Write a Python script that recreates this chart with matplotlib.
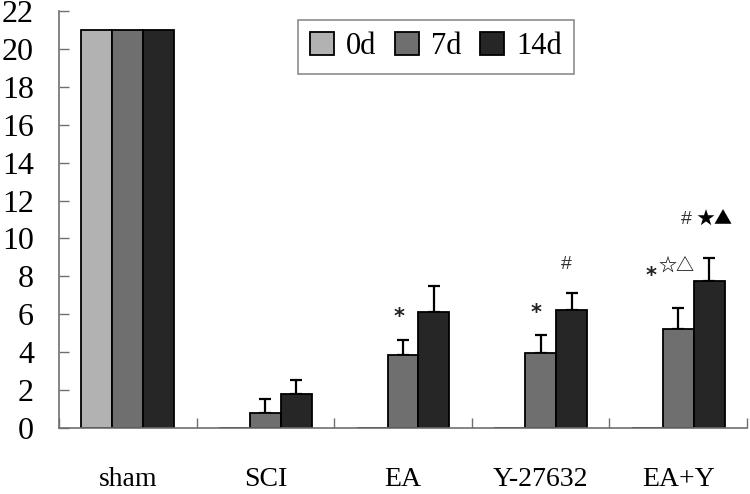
import matplotlib
matplotlib.use("Agg")
import matplotlib.pyplot as plt
import numpy as np

groups = ["sham", "SCI", "EA", "Y-27632", "EA+Y"]
series = ["0d", "7d", "14d"]
val_0d = [21.0, 0.0, 0.0, 0.0, 0.0]
val_7d = [21.0, 0.81, 3.83, 3.96, 5.21]
val_14d = [21.0, 1.81, 6.12, 6.21, 7.77]
err_7d = [0.0, 0.70, 0.83, 0.93, 1.11]
err_14d = [0.0, 0.72, 1.36, 0.93, 1.22]
colors = ["#b2b2b2", "#6f6f6f", "#262626"]
yticks = list(range(0, 23, 2))

# significance marks: (x in data units, y value, text)
ann_x = [1.97, 2.97, 3.19, 3.80, 3.99, 4.06, 4.26]
ann_y = [6.08, 6.33, 8.6, 8.25, 8.5, 11.0, 11.0]
ann_t = ["*", "*", "#", "*", "☆△", "#", "★▲"]

fig = plt.figure(figsize=(7.5, 4.94), dpi=100)
ax = fig.add_axes([59/750, 1-428/494, (747-59)/750, (428-11)/494])

x = np.arange(len(groups))
w = 0.225
vals = [val_0d, val_7d, val_14d]
errs = [None, err_7d, err_14d]
for i, (v, e, c, lab) in enumerate(zip(vals, errs, colors, series)):
    pos = x + (i - 1) * w
    ax.bar(pos, v, width=w, color=c, edgecolor="black", linewidth=1.3, label=lab, zorder=2)
    if e is not None:
        m = np.array(e) > 0
        ax.errorbar(pos[m], np.array(v)[m], yerr=[np.zeros(m.sum()), np.array(e)[m]],
                    fmt="none", ecolor="black", elinewidth=1.6, capsize=4, capthick=1.6, zorder=1)

ax.set_xlim(-0.5, len(groups) - 0.5)
ax.set_ylim(0, 22)
ax.set_yticks(yticks)
ax.set_yticklabels([str(t) for t in yticks], fontfamily="Liberation Serif", fontsize=23)
ax.set_xticks(x)
ax.set_xticklabels(groups, fontfamily="Liberation Serif", fontsize=20)
ax.set_xticks(np.arange(-0.5, len(groups)), minor=True)
ax.tick_params(axis="x", which="major", length=0, pad=28)
ax.tick_params(axis="x", which="minor", direction="in", length=7, color="#707070", width=1)
ax.tick_params(axis="y", direction="in", length=7, color="#707070", width=1, pad=18)
for s in ["top", "right"]:
    ax.spines[s].set_visible(False)
for s in ["left", "bottom"]:
    ax.spines[s].set_color("#707070")
    ax.spines[s].set_linewidth(1.2)

for xx, yy, t in zip(ann_x, ann_y, ann_t):
    if t == "*":
        ax.text(xx, yy - 0.25, t, ha="center", va="center", fontsize=15, fontweight="bold",
                color="#222222", fontfamily="DejaVu Sans")
    elif t == "#":
        ax.text(xx, yy, t, ha="center", va="center", fontsize=14,
                color="#333333", fontfamily="Liberation Sans")
    else:
        ax.text(xx, yy, t, ha="center", va="center", fontsize=13,
                color="black", fontfamily=["Noto Sans CJK SC", "DejaVu Sans"])

leg = ax.legend(loc="upper left", bbox_to_anchor=((298-59)/688, (428-20)/417), ncol=3,
                prop={"family": "Liberation Serif", "size": 22}, frameon=True, fancybox=False,
                handlelength=0.78, handleheight=0.78, handletextpad=0.4, columnspacing=0.6,
                borderpad=0.4, borderaxespad=0)
leg.get_frame().set_edgecolor("#707070")
leg.get_frame().set_linewidth(1.2)

fig.savefig("out.png", dpi=100)
